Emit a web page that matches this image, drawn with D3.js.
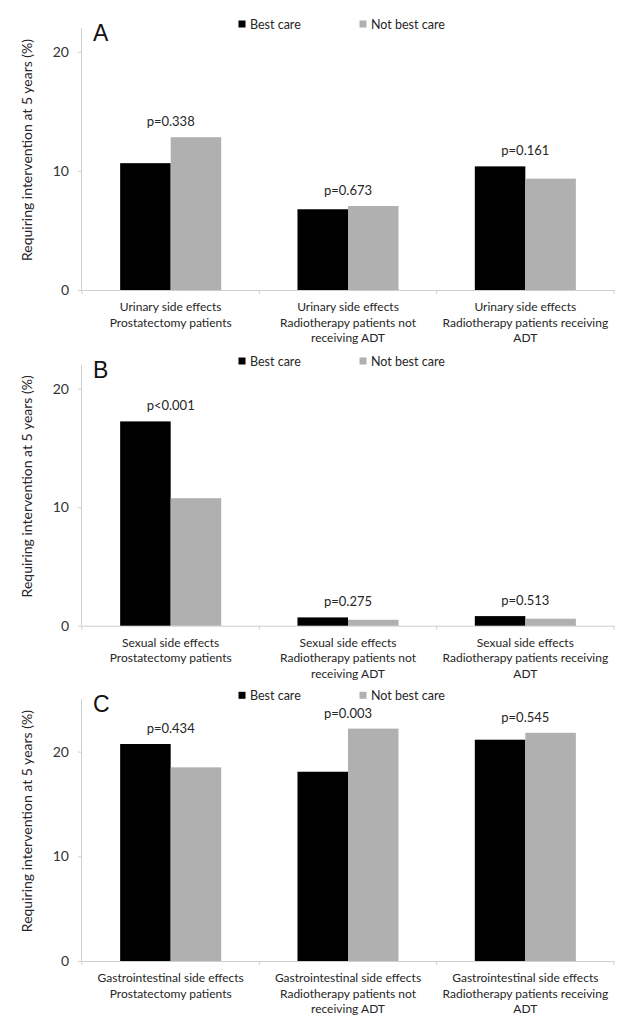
<!DOCTYPE html>
<html><head><meta charset="utf-8">
<script src="https://cdn.jsdelivr.net/npm/d3@7"></script>
<style>
body{margin:0;background:#fff}
svg{display:block}
text{font-family:Lato,"Open Sans",sans-serif;fill:#262626}
</style>
</head><body>
<svg id="chart" width="621" height="1031"></svg>
<script>
// ---------- data ----------
const seriesNames = ["Best care", "Not best care"];
const panelLetters = ["A", "B", "C"];
const yTicks = [0, 10, 20];
const yTitle = "Requiring intervention at 5 years (%)";

const categoriesA = ["Urinary side effects|Prostatectomy patients",
                     "Urinary side effects|Radiotherapy patients not|receiving ADT",
                     "Urinary side effects|Radiotherapy patients receiving|ADT"];
const bestCareA    = [10.65, 6.78, 10.38];
const notBestCareA = [12.83, 7.05, 9.35];
const pValuesA     = ["p=0.338", "p=0.673", "p=0.161"];
const yMaxA = 22;

const categoriesB = ["Sexual side effects|Prostatectomy patients",
                     "Sexual side effects|Radiotherapy patients not|receiving ADT",
                     "Sexual side effects|Radiotherapy patients receiving|ADT"];
const bestCareB    = [17.24, 0.70, 0.81];
const notBestCareB = [10.76, 0.50, 0.59];
const pValuesB     = ["p<0.001", "p=0.275", "p=0.513"];
const yMaxB = 22;

const categoriesC = ["Gastrointestinal side effects|Prostatectomy patients",
                     "Gastrointestinal side effects|Radiotherapy patients not|receiving ADT",
                     "Gastrointestinal side effects|Radiotherapy patients receiving|ADT"];
const bestCareC    = [20.73, 18.08, 21.14];
const notBestCareC = [18.50, 22.20, 21.80];
const pValuesC     = ["p=0.434", "p=0.003", "p=0.545"];
const yMaxC = 25;

// ---------- styling / layout ----------
const colors = ["#000000", "#b0b0b0"];
const axisColor = "#cfcfcf";
const xLeft = 82, xRight = 614;
const panels = [
  {letter: panelLetters[0], cats: categoriesA, vals: [bestCareA, notBestCareA], p: pValuesA, yMax: yMaxA, top: 28,  bottom: 290},
  {letter: panelLetters[1], cats: categoriesB, vals: [bestCareB, notBestCareB], p: pValuesB, yMax: yMaxB, top: 365, bottom: 625.7},
  {letter: panelLetters[2], cats: categoriesC, vals: [bestCareC, notBestCareC], p: pValuesC, yMax: yMaxC, top: 699.3, bottom: 961}
];

const svg = d3.select("#chart");

panels.forEach(P => {
  const g = svg.append("g");
  const x0 = d3.scaleBand().domain(P.cats).range([xLeft, xRight]).padding(0);
  const x1 = d3.scaleBand().domain(seriesNames).range([0, x0.bandwidth()]).paddingInner(0).paddingOuter(0.755);
  const y = d3.scaleLinear().domain([0, P.yMax]).range([P.bottom, P.top]);

  // y axis
  const yAxis = g.append("g").attr("transform", `translate(${xLeft},0)`)
    .call(d3.axisLeft(y).tickValues(yTicks).tickSize(4).tickPadding(9).tickFormat(d3.format("d")));
  yAxis.select(".domain").attr("stroke", axisColor).attr("d", `M-0.5,${P.bottom}V${P.top}`);
  yAxis.selectAll(".tick line").attr("stroke", axisColor);
  yAxis.selectAll(".tick text").attr("font-size", 14).style("fill", "#333");

  // x axis
  const xAxis = g.append("g").attr("transform", `translate(0,${P.bottom})`)
    .call(d3.axisBottom(x0).tickSize(0).tickFormat(""));
  xAxis.select(".domain").attr("stroke", axisColor);
  const bounds = [xLeft].concat(P.cats.map(c => x0(c) + x0.step()));
  g.selectAll(".xt").data(bounds).join("line")
    .attr("x1", d => d).attr("x2", d => d)
    .attr("y1", P.bottom).attr("y2", P.bottom + 4)
    .attr("stroke", axisColor);

  // category labels
  P.cats.forEach(c => {
    const t = g.append("text").attr("text-anchor", "middle").attr("font-size", 12)
      .attr("x", x0(c) + x0.bandwidth() / 2).attr("y", P.bottom + 21);
    c.split("|").forEach((line, i) => {
      t.append("tspan").attr("x", x0(c) + x0.bandwidth() / 2).attr("dy", i === 0 ? 0 : 15.6).text(line);
    });
  });

  // bars
  P.cats.forEach((c, ci) => {
    seriesNames.forEach((s, si) => {
      const v = P.vals[si][ci];
      g.append("rect")
        .attr("x", x0(c) + x1(s)).attr("width", x1.bandwidth())
        .attr("y", y(v)).attr("height", y(0) - y(v))
        .attr("fill", colors[si]);
    });
    const m = Math.max(P.vals[0][ci], P.vals[1][ci]);
    g.append("text").attr("text-anchor", "middle").attr("font-size", 13)
      .attr("x", x0(c) + x0.bandwidth() / 2).attr("y", y(m) - 11)
      .text(P.p[ci]);
  });

  // panel letter
  g.append("text").attr("x", 93).attr("y", P.top + 12.5).attr("font-size", 23)
    .style("font-family", "'Liberation Sans',Arial,sans-serif").style("fill", "#111").text(P.letter);

  // legend
  const lx = [238.5, 359.5];
  seriesNames.forEach((s, si) => {
    g.append("rect").attr("x", lx[si]).attr("y", P.top - 7.5).attr("width", 7).attr("height", 7).attr("fill", colors[si]);
    g.append("text").attr("x", lx[si] + 11.5).attr("y", P.top + 0.5).attr("font-size", 12.5).text(s);
  });

  // y title
  g.append("text").attr("text-anchor", "middle").attr("font-size", 14)
    .attr("transform", `translate(32,${(P.top + P.bottom) / 2 - 9}) rotate(-90)`)
    .text(yTitle);
});
</script>
</body></html>
